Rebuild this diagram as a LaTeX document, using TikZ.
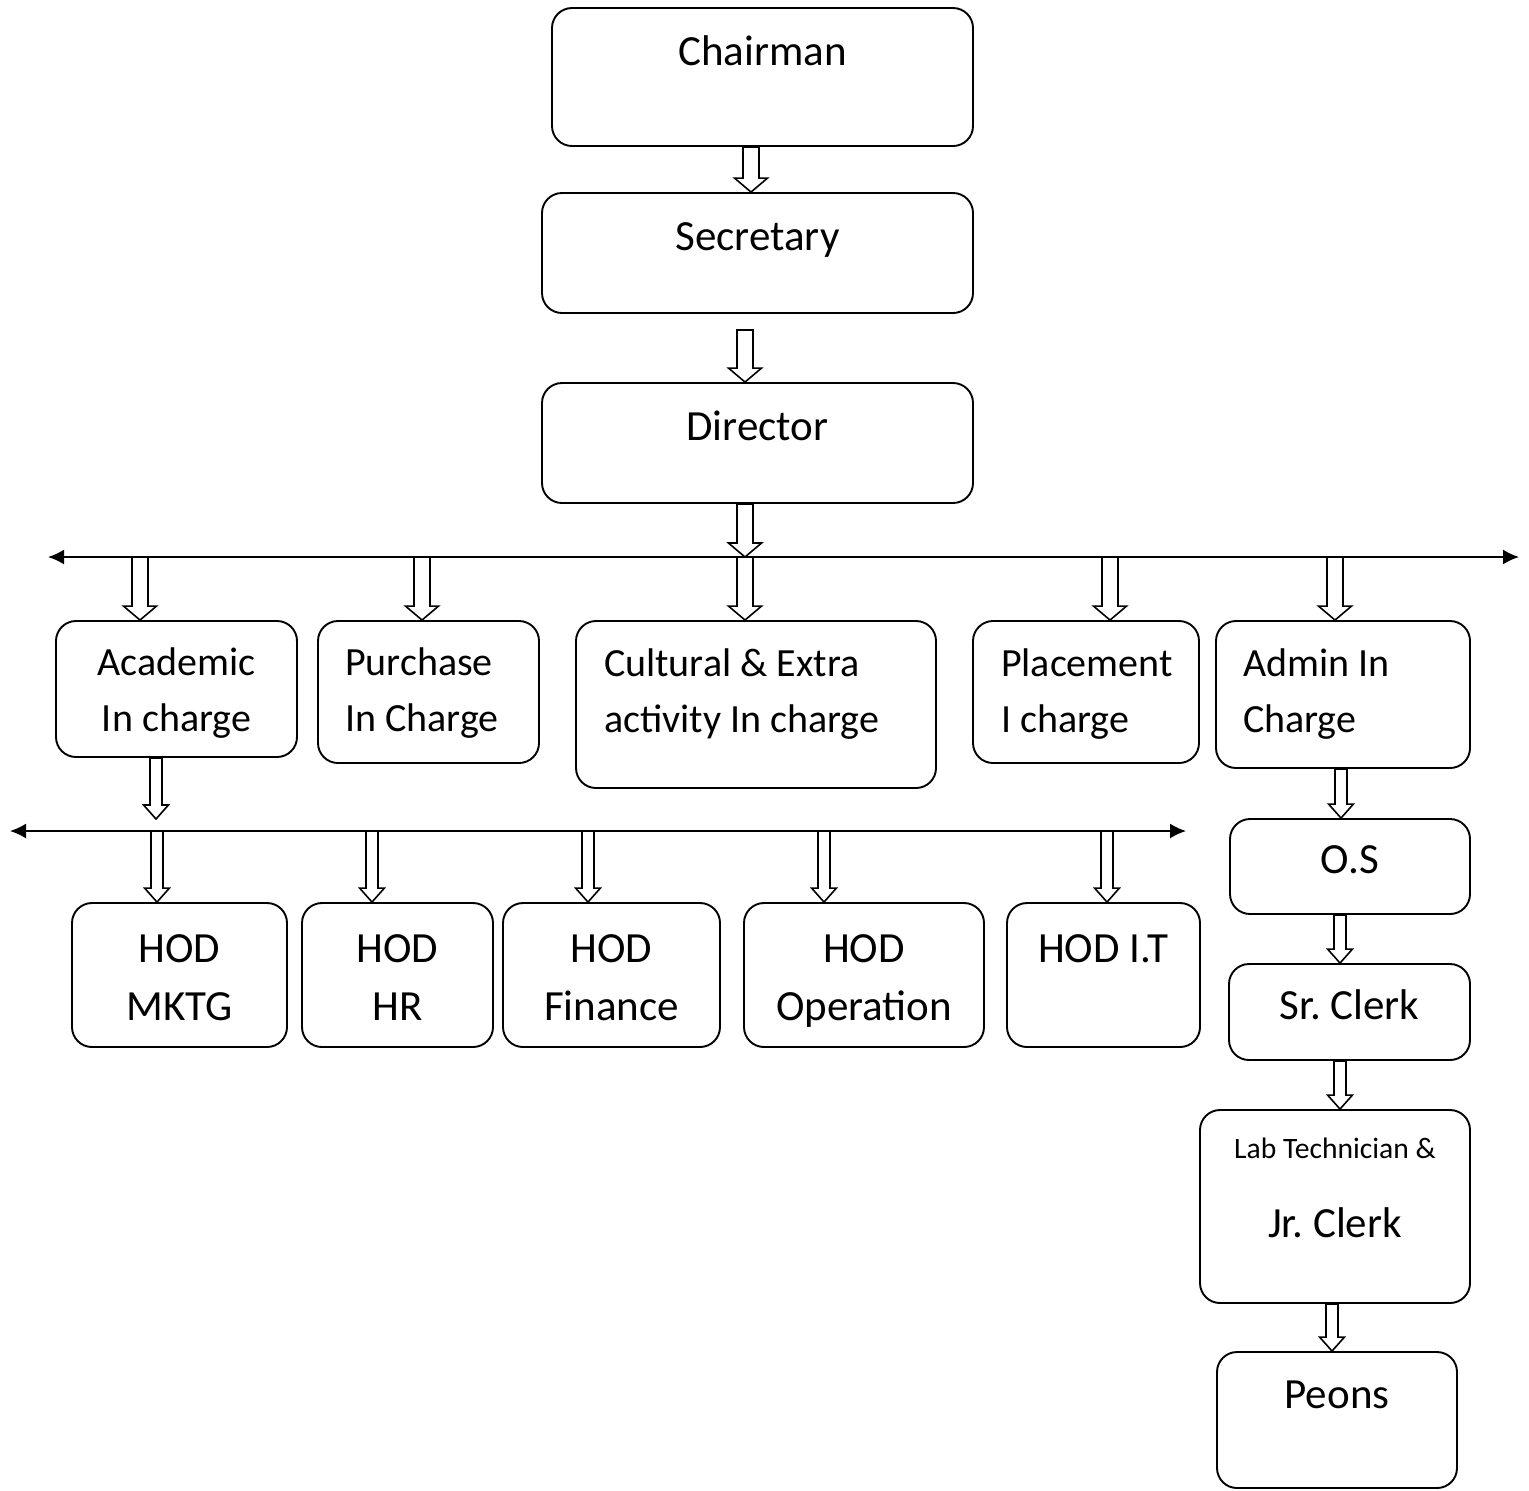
\documentclass[tikz,border=0pt]{standalone}
\usepackage{fontspec}
\setmainfont{Carlito}
\usetikzlibrary{calc,arrows.meta}
\frenchspacing
\tikzstyle{post}=[draw,rounded corners=10pt,line width=0.95pt,inner sep=0pt,
  anchor=base,align=flush center,font=\fontsize{21.5}{28}\selectfont]
\tikzstyle{mid}=[font=\fontsize{20}{28}\selectfont]
\tikzstyle{hod}=[post,text width=#1,text height=29.5pt,text depth=42.5pt,
  font=\fontsize{21.5}{29}\selectfont]
\tikzstyle{block}=[draw,fill=white,line width=0.8pt,line join=miter]
\newcommand{\newPost}[4]{\node[post,#4](#1) at (#3){#2};}
\newcommand{\newArrow}[3]{\draw[block] let \p1=(#1),\p2=(#2) in
  (\x1-#3,\y1) -- (\x1-#3,\y2+7pt) -- (\x1-2.07*#3,\y2+7pt) -- (\x1,\y2)
  -- (\x1+2.07*#3,\y2+7pt) -- (\x1+#3,\y2+7pt) -- (\x1+#3,\y1) -- cycle;}

\begin{document}
\begin{tikzpicture}[x=0.5pt,y=-0.5pt,>={Latex[length=8pt,width=7.5pt]}]
    \useasboundingbox (0,0) rectangle (1529,1490);
    % top of the chart
    \newPost{chair}{Chairman}{762.5,65}{text width=210.5pt,text height=28.5pt,text depth=40.5pt}
    \newPost{secy}{Secretary}{757.5,250}{text width=215.5pt,text height=28.5pt,text depth=31.5pt}
    \newPost{dir}{Director}{757.5,440}{text width=215.5pt,text height=28.5pt,text depth=31.5pt}
    % second row
    \newPost{acad}{Academic\\In charge}{176.5,675}{mid,text width=120.5pt,text height=27pt,text depth=41pt}
    \newPost{purch}{Purchase\\In Charge}{428.5,675}{mid,align=flush left,text width=83.5pt,inner xsep=13.5pt,text height=27pt,text depth=44pt}
    \newPost{cult}{Cultural \& Extra\\activity In charge}{756,676}{mid,align=flush left,text width=152pt,inner xsep=14pt,text height=27.5pt,text depth=56pt}
    \newPost{place}{Placement\\I charge}{1086,676}{mid,align=flush left,text width=85pt,inner xsep=14pt,text height=27.5pt,text depth=43.5pt}
    \newPost{admin}{Admin In\\Charge}{1343,676}{mid,align=flush left,text width=100pt,inner xsep=13.5pt,text height=27.5pt,text depth=46pt}
    % heads of department
    \newPost{mktg}{HOD\\MKTG}{179.5,962}{hod=107.5pt}
    \newPost{hr}{HOD\\HR}{397.5,962}{hod=95.5pt}
    \newPost{fin}{HOD\\Finance}{611.5,962}{hod=108.5pt}
    \newPost{oper}{HOD\\Operation}{864,962}{hod=120pt}
    \newPost{it}{HOD I.T}{1103.5,962}{hod=96.5pt}
    % admin column
    \newPost{os}{O.S}{1350,873}{text width=120pt,text height=27pt,text depth=20.5pt}
    \newPost{srclerk}{Sr. Clerk}{1349.5,1019}{text width=120.5pt,text height=27.5pt,text depth=20.5pt}
    \newPost{labjr}{{\fontsize{14.8}{18}\selectfont Lab Technician \&}\\[11.5pt]Jr. Clerk}{1335,1158}{text width=135pt,text height=24pt,text depth=72.5pt}
    \newPost{peons}{Peons}{1337,1408}{text width=120pt,text height=28pt,text depth=40pt}
    % the two lines
    \coordinate (busL) at (48,557);
    \coordinate (busR) at (1519,557);
    \coordinate (busTwoL) at (10,831);
    \coordinate (busTwoR) at (1186,831);
    \draw[<->,line width=0.9pt] (busL) -- (busR);
    \draw[<->,line width=0.9pt] (busTwoL) -- (busTwoR);
    \coordinate (secyOut) at (745,330);
    \coordinate (acadTip) at (156,819);
    % block arrows
    \newArrow{751,0 |- chair.south}{secy.north}{4pt}
    \newArrow{secyOut}{dir.north}{4pt}
    \newArrow{745,0 |- dir.south}{busL}{4pt}
    \newArrow{140,0 |- busL}{acad.north}{4pt}
    \newArrow{422,0 |- busL}{purch.north}{4pt}
    \newArrow{745,0 |- busL}{cult.north}{4pt}
    \newArrow{1110,0 |- busL}{place.north}{4pt}
    \newArrow{1335,0 |- busL}{admin.north}{4pt}
    \newArrow{156,0 |- acad.south}{acadTip}{3pt}
    \newArrow{157,0 |- busTwoL}{mktg.north}{3pt}
    \newArrow{372,0 |- busTwoL}{hr.north}{3pt}
    \newArrow{588,0 |- busTwoL}{fin.north}{3pt}
    \newArrow{824,0 |- busTwoL}{oper.north}{3pt}
    \newArrow{1107,0 |- busTwoL}{it.north}{3pt}
    \newArrow{1341,0 |- admin.south}{os.north}{3pt}
    \newArrow{1340,0 |- os.south}{srclerk.north}{3pt}
    \newArrow{1340,0 |- srclerk.south}{labjr.north}{3pt}
    \newArrow{1332,0 |- labjr.south}{peons.north}{3pt}
\end{tikzpicture}
\end{document}
